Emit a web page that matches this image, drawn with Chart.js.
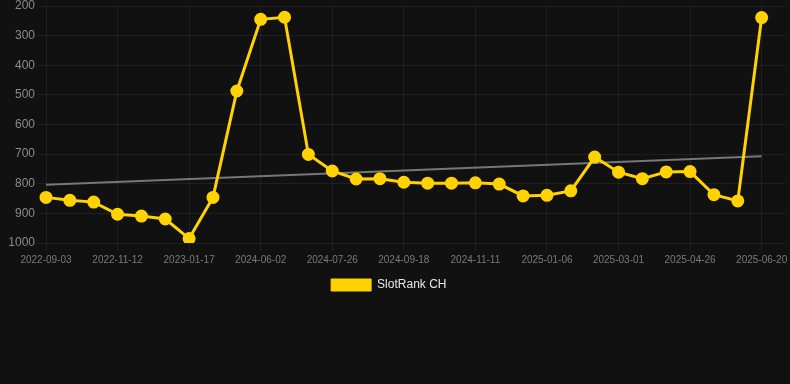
<!DOCTYPE html>
<html>
<head>
<meta charset="utf-8">
<script src="https://cdn.jsdelivr.net/npm/chart.js@4.4.1/dist/chart.umd.min.js"></script>
<style>
  html, body { margin: 0; padding: 0; background: #111111; }
  #wrap { width: 790px; height: 301px; position: relative; }
</style>
</head>
<body>
<div id="wrap"><canvas id="c"></canvas></div>
<script>
const labels = [
  "2022-09-03","2022-09-26","2022-10-19","2022-11-12","2022-12-04","2022-12-26",
  "2023-01-17","2023-02-09","2024-05-10","2024-06-02","2024-06-20","2024-07-08",
  "2024-07-26","2024-08-13","2024-08-31","2024-09-18","2024-10-06","2024-10-24",
  "2024-11-11","2024-11-29","2024-12-18","2025-01-06","2025-01-24","2025-02-11",
  "2025-03-01","2025-03-19","2025-04-07","2025-04-26","2025-05-14","2025-06-01",
  "2025-06-20","2025-07-08"
];
const rankValues = [
  846, 856, 862, 903, 909, 919, 985, 846, 487, 245, 238, 701,
  757, 784, 783, 795, 798, 798, 797, 801, 841, 839, 824, 710,
  761, 783, 760, 759, 837, 858, 239
];
const trendStart = { x: "2022-09-03", y: 803 };
const trendEnd = { x: "2025-06-20", y: 707 };
const yTicks = { min: 200, max: 1000, step: 100 };
const seriesName = 'SlotRank CH';

const gold = '#ffd200';
const gridColor = 'rgba(255,255,255,0.06)';
const fontFam = 'Arial, "Liberation Sans", sans-serif';

new Chart(document.getElementById('c'), {
  type: 'line',
  data: {
    labels: labels,
    datasets: [
      {
        label: seriesName,
        data: rankValues,
        borderColor: gold,
        backgroundColor: gold,
        borderWidth: 3,
        pointRadius: 5,
        pointHoverRadius: 5,
        pointBackgroundColor: gold,
        pointBorderColor: gold,
        tension: 0
      },
      {
        label: 'trend',
        data: [trendStart, trendEnd],
        borderColor: '#777777',
        backgroundColor: '#777777',
        borderWidth: 2,
        pointRadius: 0,
        tension: 0
      }
    ]
  },
  options: {
    responsive: true,
    maintainAspectRatio: false,
    animation: false,
    layout: { padding: 0, autoPadding: false },
    scales: {
      x: {
        grid: { color: gridColor, tickColor: gridColor },
        border: { display: false },
        ticks: {
          color: '#7a7a7a',
          font: { size: 10, family: fontFam },
          maxRotation: 0,
          autoSkip: true
        },
        afterFit: function(scale) { scale.paddingRight = 4.5; }
      },
      y: {
        reverse: true,
        min: yTicks.min,
        max: yTicks.max,
        grid: { color: gridColor, tickColor: gridColor },
        border: { display: false },
        ticks: {
          stepSize: yTicks.step,
          color: '#8a8a8a',
          font: { size: 12, family: fontFam },
          callback: function(v) { return String(v); }
        },
        afterFit: function(scale) { scale.width = 46; scale.paddingTop = 6; }
      }
    },
    plugins: {
      legend: {
        position: 'bottom',
        labels: {
          color: '#e6e6e6',
          font: { size: 12, family: fontFam },
          boxWidth: 40,
          boxHeight: 12,
          filter: function(item) { return item.datasetIndex === 0; },
          generateLabels: function(chart) {
            const items = Chart.defaults.plugins.legend.labels.generateLabels(chart);
            items.forEach(function(it) { it.lineWidth = 1; it.text = it.text + '   \u2009'; });
            return items;
          }
        }
      },
      tooltip: { enabled: false }
    }
  }
});
</script>
</body>
</html>
